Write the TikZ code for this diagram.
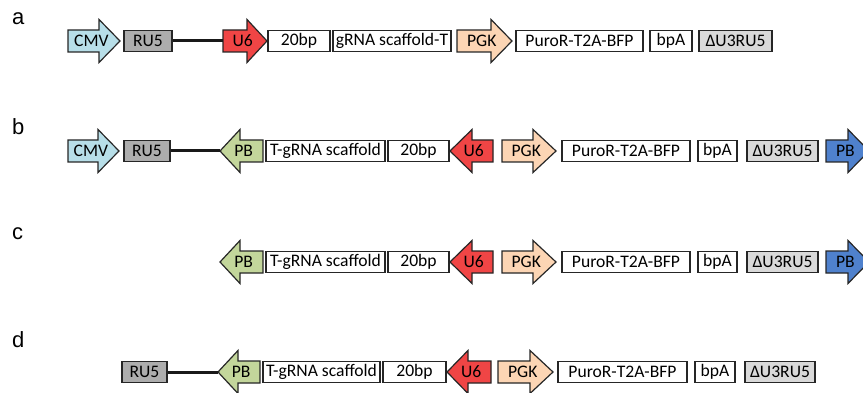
\documentclass[tikz,border=0pt]{standalone}
\usepackage{fontspec}
\setmainfont{Carlito}
\newfontfamily\labfont{Liberation Sans}
\definecolor{cmvc}{HTML}{B7DEE8}
\definecolor{ruc}{HTML}{ADADAD}
\definecolor{u6c}{HTML}{F04545}
\definecolor{pgkc}{HTML}{FCD5B4}
\definecolor{pbg}{HTML}{C3D69B}
\definecolor{pbb}{HTML}{4F81CD}
\definecolor{ltrc}{HTML}{D9D9D9}
\tikzset{
  arrowline/.style={draw=black!85, line width=1.2pt, line join=miter},
  lbl/.style={inner sep=0pt, font=\fontsize{17.6}{17.6}\selectfont},
  box/.style={draw=black!85, line width=1.2pt, fill=white, minimum height=21pt, inner sep=0pt, font=\fontsize{17.6}{17.6}\selectfont},
  graybox/.style={box, fill=ruc},
  ltrbox/.style={box, fill=ltrc},
  panel/.style={anchor=base west, inner sep=0pt, font=\labfont\fontsize{22}{22}\selectfont},
  link/.style={line width=3pt, black!90}
}
% #1 name, #2 body start x, #3 head base x, #4 tip x, #5 centre y, #6 fill, #7 text
\newcommand\genearrow[7]{%
  \draw[arrowline, fill=#6] (#2,#5-11) -- (#3,#5-11) -- (#3,#5-21.5) -- (#4,#5) -- (#3,#5+21.5) -- (#3,#5+11) -- (#2,#5+11) -- cycle;
  \node[lbl] (#1) at ({#2+0.45*(#4-#2)},#5) {#7};
  \coordinate (#1base) at (#2,#5);
  \coordinate (#1tip) at (#4,#5);
}
\begin{document}
\begin{tikzpicture}[x=1pt,y=-1pt]
\useasboundingbox (0,0) rectangle (863,393);
% ---------- a ----------
\node[panel] (la) at (12,25) {a};
\genearrow{cmva}{68}{99}{120}{41}{cmvc}{CMV}
\node[graybox, minimum width=48pt] (ru5a) at (148,41) {RU5};
\genearrow{u6a}{223}{247}{267}{41}{u6c}{U6}
\draw[link] (ru5a.east) -- (u6abase);
\node[box, minimum width=62pt] (bpa20) at (299,41) {20bp};
\node[box, minimum width=118pt] (scafa) at (392,41) {gRNA scaffold-T};
\genearrow{pgka}{457}{491}{512}{41}{pgkc}{PGK}
\node[box, minimum width=127pt] (puroa) at (579.5,41) {PuroR-T2A-BFP};
\node[box, minimum width=42pt] (bpaa) at (671,41) {bpA};
\node[ltrbox, minimum width=73pt] (ltra) at (735.5,41) {ΔU3RU5};
% ---------- b ----------
\node[panel] (lb) at (12,135) {b};
\genearrow{cmvb}{68}{98}{119}{151}{cmvc}{CMV}
\node[graybox, minimum width=46pt] (ru5b) at (147,151) {RU5};
\genearrow{pbb}{263}{240}{220}{151}{pbg}{PB}
\draw[link] (ru5b.east) -- (pbbtip);
\node[box, minimum width=119pt] (scafb) at (325.5,151) {T-gRNA scaffold};
\node[box, minimum width=61pt] (bpb20) at (418.5,151) {20bp};
\genearrow{u6b}{493}{472}{450}{151}{u6c}{U6}
\genearrow{pgkb}{502}{533}{556}{151}{pgkc}{PGK}
\node[box, minimum width=128pt] (purob) at (626,151) {PuroR-T2A-BFP};
\node[box, minimum width=39pt] (bpab) at (717.5,151) {bpA};
\node[ltrbox, minimum width=71pt] (ltrb) at (782.5,151) {ΔU3RU5};
\genearrow{pbrb}{826}{848}{869}{151}{pbb}{PB}
% ---------- c ----------
\node[panel] (lc) at (12,240) {c};
\genearrow{pbc}{263}{240}{220}{262}{pbg}{PB}
\node[box, minimum width=119pt] (scafc) at (325.5,262) {T-gRNA scaffold};
\node[box, minimum width=61pt] (bpc20) at (418.5,262) {20bp};
\genearrow{u6c}{493}{472}{450}{262}{u6c}{U6}
\genearrow{pgkc}{502}{533}{556}{262}{pgkc}{PGK}
\node[box, minimum width=128pt] (puroc) at (626,262) {PuroR-T2A-BFP};
\node[box, minimum width=39pt] (bpac) at (717.5,262) {bpA};
\node[ltrbox, minimum width=71pt] (ltrc) at (782.5,262) {ΔU3RU5};
\genearrow{pbrc}{826}{848}{869}{262}{pbb}{PB}
% ---------- d ----------
\node[panel] (ld) at (12,347) {d};
\node[graybox, minimum width=45pt] (ru5d) at (144.5,372) {RU5};
\genearrow{pbd}{260}{238}{218}{372}{pbg}{PB}
\draw[link] (ru5d.east) -- (pbdtip);
\node[box, minimum width=117pt] (scafd) at (321.5,372) {T-gRNA scaffold};
\node[box, minimum width=63pt] (bpd20) at (414.5,372) {20bp};
\genearrow{u6d}{491}{468}{447}{372}{u6c}{U6}
\genearrow{pgkd}{498}{530}{553}{372}{pgkc}{PGK}
\node[box, minimum width=129pt] (purod) at (622.5,372) {PuroR-T2A-BFP};
\node[box, minimum width=40pt] (bpad) at (715,372) {bpA};
\node[ltrbox, minimum width=70pt] (ltrd) at (780,372) {ΔU3RU5};
\end{tikzpicture}
\end{document}
